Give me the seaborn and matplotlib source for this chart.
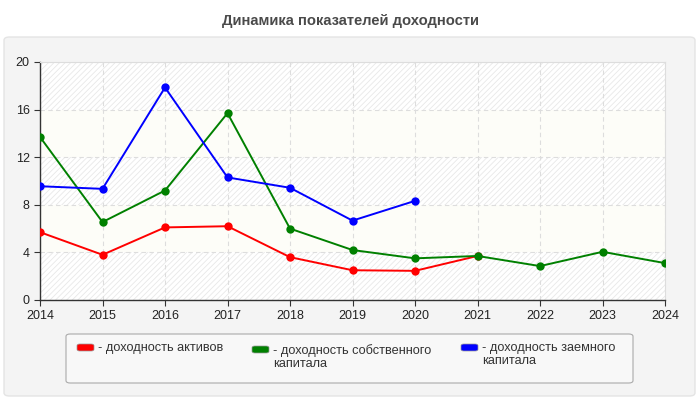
import pandas as pd
import seaborn as sns
import numpy as np
import matplotlib.pyplot as plt
from matplotlib.patches import FancyBboxPatch

# data
years = [2014, 2015, 2016, 2017, 2018, 2019, 2020, 2021, 2022, 2023, 2024]
roa = [5.7, 3.8, 6.1, 6.2, 3.6, 2.5, 2.45, 3.7]
roe = [13.7, 6.55, 9.2, 15.7, 6.0, 4.2, 3.5, 3.7, 2.85, 4.05, 3.1]
rod = [9.56, 9.34, 17.86, 10.3, 9.43, 6.67, 8.33]
series_names = ["- доходность активов", "- доходность собственного\nкапитала", "- доходность заемного\nкапитала"]
series_colors = ["#ff0000", "#008000", "#0000ff"]
y_ticks = [0, 4, 8, 12, 16, 20]

rows = []
for name, vals in zip(series_names, [roa, roe, rod]):
	for yr, v in zip(years, vals):
		rows.append({"year": yr, "value": v, "series": name})
df = pd.DataFrame(rows)

sns.set_style("white")
plt.rcParams["font.family"] = ["Liberation Sans", "DejaVu Sans"]
plt.rcParams["hatch.linewidth"] = 0.6
plt.rcParams["hatch.color"] = "#e8e8e8"

fig = plt.figure(figsize=(7, 4), dpi=100)
fig.patch.set_facecolor("white")

#outer gray panel
panel = FancyBboxPatch((4/700, 4/400), 691/700, 359/400, boxstyle="round,pad=0,rounding_size=0.008",
	transform=fig.transFigure, facecolor="#f4f4f4", edgecolor="#e4e4e4", linewidth=1, zorder=-5)
fig.patches.append(panel)

fig.text(0.5, 1-21/400, "Динамика показателей доходности", ha="center", va="center",
	fontsize=10.6, fontweight="bold", color="#4a4a4a")

ax = fig.add_axes([40/700, 1-300/400, 625/700, 238/400], zorder=2)
ax.set_facecolor("white")

#striped background bands
for i, (lo, hi) in enumerate(zip(y_ticks[:-1], y_ticks[1:])):
	if i % 2 == 0:
		ax.axhspan(lo, hi, facecolor="white", edgecolor="#e8e8e8", hatch="//////", linewidth=0, zorder=0)
	else:
		ax.axhspan(lo, hi, facecolor="#fdfdf8", linewidth=0, zorder=0)

sns.lineplot(data=df, x="year", y="value", hue="series", palette=series_colors,
	marker="o", markersize=6, markeredgewidth=0, linewidth=1.4, legend=False, ax=ax, zorder=3)

ax.set_xlim(2014, 2024)
ax.set_ylim(0, 20)
ax.set_xticks(years)
ax.set_yticks(y_ticks)
ax.set_xlabel("")
ax.set_ylabel("")
ax.grid(True, linestyle=(0, (4, 3)), color="#dddddd", linewidth=0.8)
ax.set_axisbelow(True)
for s in ["top", "right"]:
	ax.spines[s].set_color("#dddddd")
	ax.spines[s].set_linewidth(0.8)
for s in ["left", "bottom"]:
	ax.spines[s].set_color("#333333")
	ax.spines[s].set_linewidth(1)
ax.tick_params(axis="both", which="both", length=4, width=0.8, color="#333333",
	labelsize=9, labelcolor="#222222", direction="out", left=True, bottom=True)

#legend box
lg = FancyBboxPatch((66/700, 1-383/400), 567/700, 49/400, boxstyle="round,pad=0,rounding_size=0.006",
	transform=fig.transFigure, facecolor="#f8f8f8", edgecolor="#aaaaaa", linewidth=0.8, zorder=1)
fig.patches.append(lg)
for xpos, ybox, name, col in zip([77, 252, 461], [351, 353, 351], series_names, series_colors):
	fig.patches.append(FancyBboxPatch((xpos/700, 1-ybox/400), 17/700, 7/400,
		boxstyle="round,pad=0,rounding_size=0.004", transform=fig.transFigure,
		facecolor=col, edgecolor="#999999", linewidth=0.5, zorder=2))
	fig.text((xpos+21)/700, 1-(ybox-9)/400, name, ha="left", va="top", fontsize=9.2,
		color="#333333", linespacing=1.1)

plt.savefig("out.png", dpi=100)
